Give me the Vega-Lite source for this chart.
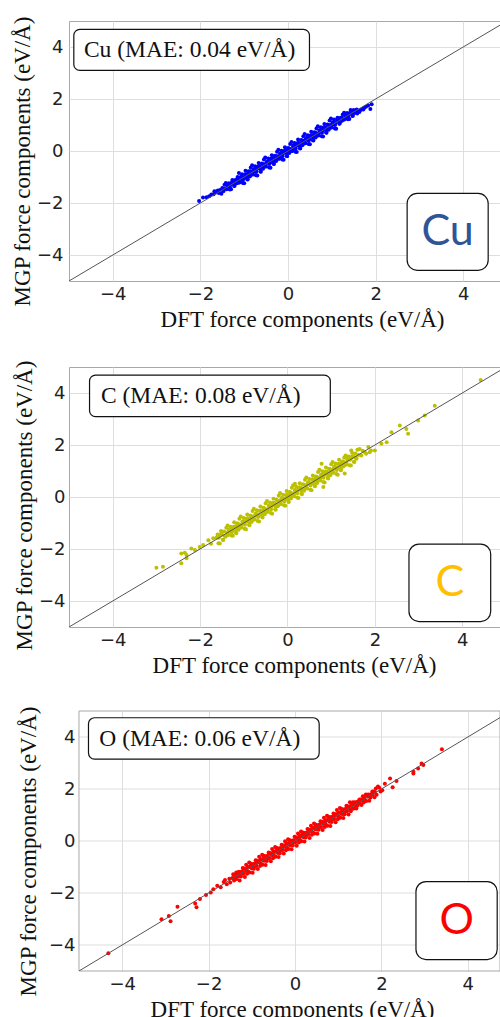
{
  "$schema": "https://vega.github.io/schema/vega-lite/v6.json",
  "padding": {"left": 10, "top": 15, "right": 0, "bottom": 0},
  "spacing": 27,
  "background": "white",
  "config": {
    "view": {"stroke": "#a8a8a8", "strokeWidth": 1},
    "axis": {"grid": true, "gridColor": "#dedede", "gridWidth": 1, "domain": false, "ticks": false, "tickSize": 0,
      "labelFont": "DejaVu Sans", "labelFontSize": 18, "labelColor": "#222222",
      "titleFont": "Liberation Serif", "titleFontSize": 23, "titleFontWeight": "normal", "titleColor": "#111111"}
  },
  "datasets": {
    "cu": [
      {"x":-1.50,"y":-1.42},{"x":-1.48,"y":-1.54},{"x":-1.52,"y":-1.64},
      {"x":-1.45,"y":-1.30},{"x":-1.43,"y":-1.44},{"x":-1.47,"y":-1.54},
      {"x":-1.40,"y":-1.47},{"x":-1.38,"y":-1.34},{"x":-1.42,"y":-1.23},
      {"x":-1.35,"y":-1.24},{"x":-1.33,"y":-1.48},{"x":-1.37,"y":-1.32},
      {"x":-1.30,"y":-1.47},{"x":-1.28,"y":-1.23},{"x":-1.32,"y":-1.31},
      {"x":-1.25,"y":-1.21},{"x":-1.23,"y":-1.35},{"x":-1.27,"y":-1.12},
      {"x":-1.20,"y":-1.12},{"x":-1.18,"y":-1.24},{"x":-1.22,"y":-1.34},
      {"x":-1.15,"y":-1.00},{"x":-1.13,"y":-1.14},{"x":-1.17,"y":-1.24},
      {"x":-1.10,"y":-1.20},{"x":-1.08,"y":-1.02},{"x":-1.12,"y":-0.85},
      {"x":-1.05,"y":-0.89},{"x":-1.03,"y":-1.23},{"x":-1.07,"y":-1.01},
      {"x":-1.00,"y":-1.24},{"x":-0.98,"y":-0.90},{"x":-1.02,"y":-1.02},
      {"x":-0.95,"y":-0.89},{"x":-0.93,"y":-1.09},{"x":-0.97,"y":-0.76},
      {"x":-0.90,"y":-0.78},{"x":-0.88,"y":-0.96},{"x":-0.92,"y":-1.10},
      {"x":-0.85,"y":-0.63},{"x":-0.83,"y":-0.83},{"x":-0.87,"y":-0.98},
      {"x":-0.80,"y":-0.90},{"x":-0.78,"y":-0.72},{"x":-0.82,"y":-0.55},
      {"x":-0.75,"y":-0.59},{"x":-0.73,"y":-0.93},{"x":-0.77,"y":-0.71},
      {"x":-0.70,"y":-0.94},{"x":-0.68,"y":-0.60},{"x":-0.72,"y":-0.72},
      {"x":-0.65,"y":-0.59},{"x":-0.63,"y":-0.79},{"x":-0.67,"y":-0.46},
      {"x":-0.60,"y":-0.48},{"x":-0.58,"y":-0.66},{"x":-0.62,"y":-0.80},
      {"x":-0.55,"y":-0.33},{"x":-0.53,"y":-0.53},{"x":-0.57,"y":-0.68},
      {"x":-0.50,"y":-0.60},{"x":-0.48,"y":-0.42},{"x":-0.52,"y":-0.25},
      {"x":-0.45,"y":-0.29},{"x":-0.43,"y":-0.63},{"x":-0.47,"y":-0.41},
      {"x":-0.40,"y":-0.64},{"x":-0.38,"y":-0.30},{"x":-0.42,"y":-0.42},
      {"x":-0.35,"y":-0.29},{"x":-0.33,"y":-0.49},{"x":-0.37,"y":-0.16},
      {"x":-0.30,"y":-0.18},{"x":-0.28,"y":-0.36},{"x":-0.32,"y":-0.50},
      {"x":-0.25,"y":-0.03},{"x":-0.23,"y":-0.23},{"x":-0.27,"y":-0.38},
      {"x":-0.20,"y":-0.30},{"x":-0.18,"y":-0.12},{"x":-0.22,"y":0.05},
      {"x":-0.15,"y":0.01},{"x":-0.13,"y":-0.33},{"x":-0.17,"y":-0.11},
      {"x":-0.10,"y":-0.34},{"x":-0.08,"y":0.00},{"x":-0.12,"y":-0.12},
      {"x":-0.05,"y":0.01},{"x":-0.03,"y":-0.19},{"x":-0.07,"y":0.14},
      {"x":0.00,"y":0.12},{"x":0.02,"y":-0.06},{"x":-0.02,"y":-0.20},
      {"x":0.05,"y":0.27},{"x":0.07,"y":0.07},{"x":0.03,"y":-0.08},
      {"x":0.10,"y":0.00},{"x":0.12,"y":0.18},{"x":0.08,"y":0.35},
      {"x":0.15,"y":0.31},{"x":0.17,"y":-0.03},{"x":0.13,"y":0.19},
      {"x":0.20,"y":-0.04},{"x":0.22,"y":0.30},{"x":0.18,"y":0.18},
      {"x":0.25,"y":0.31},{"x":0.27,"y":0.11},{"x":0.23,"y":0.44},
      {"x":0.30,"y":0.42},{"x":0.32,"y":0.24},{"x":0.28,"y":0.10},
      {"x":0.35,"y":0.57},{"x":0.37,"y":0.37},{"x":0.33,"y":0.22},
      {"x":0.40,"y":0.30},{"x":0.42,"y":0.48},{"x":0.38,"y":0.65},
      {"x":0.45,"y":0.61},{"x":0.47,"y":0.27},{"x":0.43,"y":0.49},
      {"x":0.50,"y":0.26},{"x":0.52,"y":0.60},{"x":0.48,"y":0.48},
      {"x":0.55,"y":0.61},{"x":0.57,"y":0.41},{"x":0.53,"y":0.74},
      {"x":0.60,"y":0.72},{"x":0.62,"y":0.54},{"x":0.58,"y":0.40},
      {"x":0.65,"y":0.87},{"x":0.67,"y":0.67},{"x":0.63,"y":0.52},
      {"x":0.70,"y":0.60},{"x":0.72,"y":0.78},{"x":0.68,"y":0.95},
      {"x":0.75,"y":0.91},{"x":0.77,"y":0.57},{"x":0.73,"y":0.79},
      {"x":0.80,"y":0.56},{"x":0.82,"y":0.90},{"x":0.78,"y":0.78},
      {"x":0.85,"y":0.91},{"x":0.87,"y":0.71},{"x":0.83,"y":1.04},
      {"x":0.90,"y":1.02},{"x":0.92,"y":0.84},{"x":0.88,"y":0.70},
      {"x":0.95,"y":1.17},{"x":0.97,"y":0.97},{"x":0.93,"y":0.82},
      {"x":1.00,"y":0.90},{"x":1.02,"y":1.08},{"x":0.98,"y":1.25},
      {"x":1.05,"y":1.21},{"x":1.07,"y":0.87},{"x":1.03,"y":1.09},
      {"x":1.10,"y":0.86},{"x":1.12,"y":1.20},{"x":1.08,"y":1.08},
      {"x":1.15,"y":1.19},{"x":1.17,"y":1.05},{"x":1.13,"y":1.28},
      {"x":1.20,"y":1.28},{"x":1.22,"y":1.16},{"x":1.18,"y":1.06},
      {"x":1.25,"y":1.40},{"x":1.27,"y":1.26},{"x":1.23,"y":1.16},
      {"x":1.30,"y":1.23},{"x":1.32,"y":1.36},{"x":1.28,"y":1.47},
      {"x":1.35,"y":1.46},{"x":1.37,"y":1.22},{"x":1.33,"y":1.38},
      {"x":1.40,"y":1.23},{"x":1.42,"y":1.47},{"x":1.38,"y":1.39},
      {"x":1.45,"y":1.49},{"x":1.47,"y":1.35},{"x":1.43,"y":1.58},
      {"x":1.50,"y":1.58},{"x":1.52,"y":1.46},{"x":1.48,"y":1.36},
      {"x":-0.80,"y":-0.82},{"x":-0.70,"y":-0.66},{"x":-0.60,"y":-0.62},{"x":-0.50,"y":-0.47},
      {"x":-0.40,"y":-0.43},{"x":-0.30,"y":-0.27},{"x":-0.20,"y":-0.22},{"x":-0.10,"y":-0.07},
      {"x":0.00,"y":0.03},{"x":0.10,"y":0.07},{"x":0.20,"y":0.23},{"x":0.30,"y":0.27},
      {"x":0.40,"y":0.43},{"x":0.50,"y":0.47},{"x":0.60,"y":0.63},{"x":0.70,"y":0.67},
      {"x":0.80,"y":0.83},{"x":0.90,"y":0.87},{"x":1.00,"y":1.03},{"x":-0.90,"y":-0.87},{"x":-1.00,"y":-1.03},
      {"x":-1.25,"y":-1.26},{"x":-1.15,"y":-1.08},{"x":-1.05,"y":-1.12},{"x":-0.95,"y":-0.97},
      {"x":-0.85,"y":-0.78},{"x":-0.75,"y":-0.80},{"x":-0.65,"y":-0.62},{"x":-0.55,"y":-0.58},
      {"x":-0.45,"y":-0.44},{"x":-0.35,"y":-0.38},{"x":-0.25,"y":-0.20},{"x":-0.15,"y":-0.19},
      {"x":-0.05,"y":-0.02},{"x":0.05,"y":0.01},{"x":0.15,"y":0.17},{"x":0.25,"y":0.22},
      {"x":0.35,"y":0.38},{"x":0.45,"y":0.42},{"x":0.55,"y":0.58},{"x":0.65,"y":0.61},
      {"x":0.75,"y":0.77},{"x":0.85,"y":0.82},{"x":0.95,"y":0.98},{"x":1.05,"y":1.02},
      {"x":1.15,"y":1.15},{"x":1.25,"y":1.22},{"x":1.35,"y":1.33},{"x":1.45,"y":1.42},
      {"x":-1.375,"y":-1.30},{"x":-1.325,"y":-1.40},{"x":-1.275,"y":-1.19},{"x":-1.225,"y":-1.28},
      {"x":-1.175,"y":-1.10},{"x":-1.125,"y":-1.22},{"x":-1.075,"y":-1.00},{"x":-1.025,"y":-1.10},
      {"x":-0.975,"y":-0.90},{"x":-0.925,"y":-1.00},{"x":-0.875,"y":-0.80},{"x":-0.825,"y":-0.90},
      {"x":-0.775,"y":-0.70},{"x":-0.725,"y":-0.80},{"x":-0.675,"y":-0.60},{"x":-0.625,"y":-0.70},
      {"x":-0.575,"y":-0.50},{"x":-0.525,"y":-0.60},{"x":-0.475,"y":-0.40},{"x":-0.425,"y":-0.50},
      {"x":-0.375,"y":-0.30},{"x":-0.325,"y":-0.40},{"x":-0.275,"y":-0.20},{"x":-0.225,"y":-0.30},
      {"x":-0.175,"y":-0.10},{"x":-0.125,"y":-0.20},{"x":-0.075,"y":0.00},{"x":-0.025,"y":-0.10},
      {"x":0.025,"y":0.10},{"x":0.075,"y":0.00},{"x":0.125,"y":0.20},{"x":0.175,"y":0.10},
      {"x":0.225,"y":0.30},{"x":0.275,"y":0.20},{"x":0.325,"y":0.40},{"x":0.375,"y":0.30},
      {"x":0.425,"y":0.50},{"x":0.475,"y":0.40},{"x":0.525,"y":0.60},{"x":0.575,"y":0.50},
      {"x":0.625,"y":0.70},{"x":0.675,"y":0.60},{"x":0.725,"y":0.80},{"x":0.775,"y":0.70},
      {"x":0.825,"y":0.90},{"x":0.875,"y":0.80},{"x":0.925,"y":1.00},{"x":0.975,"y":0.90},
      {"x":1.025,"y":1.10},{"x":1.075,"y":1.00},{"x":1.125,"y":1.20},{"x":1.175,"y":1.10},
      {"x":1.225,"y":1.28},{"x":1.275,"y":1.20},{"x":1.325,"y":1.38},{"x":1.375,"y":1.30},
      {"x":-1.55,"y":-1.50},{"x":-1.58,"y":-1.62},{"x":-1.62,"y":-1.55},{"x":-1.65,"y":-1.60},
      {"x":-1.70,"y":-1.66},{"x":-1.75,"y":-1.67},{"x":-1.80,"y":-1.74},{"x":-1.86,"y":-1.78},
      {"x":-1.94,"y":-1.79},{"x":-2.03,"y":-1.92},{"x":-1.60,"y":-1.52},{"x":-1.68,"y":-1.55},
      {"x":1.55,"y":1.52},{"x":1.58,"y":1.44},{"x":1.60,"y":1.55},{"x":1.63,"y":1.50},
      {"x":1.66,"y":1.58},{"x":1.70,"y":1.62},{"x":1.74,"y":1.66},{"x":1.78,"y":1.70},
      {"x":1.83,"y":1.75},{"x":1.91,"y":1.80},{"x":1.88,"y":1.62},{"x":1.57,"y":1.60},{"x":1.72,"y":1.60}
    ],
    "c": [
      {"x":-1.60,"y":-1.44},{"x":-1.58,"y":-1.78},{"x":-1.62,"y":-1.56},
      {"x":-1.55,"y":-1.79},{"x":-1.53,"y":-1.45},{"x":-1.57,"y":-1.57},
      {"x":-1.50,"y":-1.44},{"x":-1.48,"y":-1.64},{"x":-1.52,"y":-1.31},
      {"x":-1.45,"y":-1.33},{"x":-1.43,"y":-1.51},{"x":-1.47,"y":-1.65},
      {"x":-1.40,"y":-1.18},{"x":-1.38,"y":-1.38},{"x":-1.42,"y":-1.53},
      {"x":-1.35,"y":-1.45},{"x":-1.33,"y":-1.27},{"x":-1.37,"y":-1.10},
      {"x":-1.30,"y":-1.14},{"x":-1.28,"y":-1.48},{"x":-1.32,"y":-1.26},
      {"x":-1.25,"y":-1.49},{"x":-1.23,"y":-1.15},{"x":-1.27,"y":-1.27},
      {"x":-1.20,"y":-1.13},{"x":-1.18,"y":-1.37},{"x":-1.22,"y":-0.97},
      {"x":-1.15,"y":-1.01},{"x":-1.13,"y":-1.22},{"x":-1.17,"y":-1.39},
      {"x":-1.10,"y":-0.84},{"x":-1.08,"y":-1.08},{"x":-1.12,"y":-1.26},
      {"x":-1.05,"y":-1.17},{"x":-1.03,"y":-0.95},{"x":-1.07,"y":-0.75},
      {"x":-1.00,"y":-0.81},{"x":-0.98,"y":-1.22},{"x":-1.02,"y":-0.95},
      {"x":-0.95,"y":-1.24},{"x":-0.93,"y":-0.83},{"x":-0.97,"y":-0.97},
      {"x":-0.90,"y":-0.83},{"x":-0.88,"y":-1.07},{"x":-0.92,"y":-0.67},
      {"x":-0.85,"y":-0.71},{"x":-0.83,"y":-0.92},{"x":-0.87,"y":-1.09},
      {"x":-0.80,"y":-0.54},{"x":-0.78,"y":-0.78},{"x":-0.82,"y":-0.96},
      {"x":-0.75,"y":-0.87},{"x":-0.73,"y":-0.65},{"x":-0.77,"y":-0.45},
      {"x":-0.70,"y":-0.51},{"x":-0.68,"y":-0.92},{"x":-0.72,"y":-0.65},
      {"x":-0.65,"y":-0.94},{"x":-0.63,"y":-0.53},{"x":-0.67,"y":-0.67},
      {"x":-0.60,"y":-0.53},{"x":-0.58,"y":-0.77},{"x":-0.62,"y":-0.37},
      {"x":-0.55,"y":-0.41},{"x":-0.53,"y":-0.62},{"x":-0.57,"y":-0.79},
      {"x":-0.50,"y":-0.24},{"x":-0.48,"y":-0.48},{"x":-0.52,"y":-0.66},
      {"x":-0.45,"y":-0.57},{"x":-0.43,"y":-0.35},{"x":-0.47,"y":-0.15},
      {"x":-0.40,"y":-0.21},{"x":-0.38,"y":-0.62},{"x":-0.42,"y":-0.35},
      {"x":-0.35,"y":-0.64},{"x":-0.33,"y":-0.23},{"x":-0.37,"y":-0.37},
      {"x":-0.30,"y":-0.23},{"x":-0.28,"y":-0.47},{"x":-0.32,"y":-0.07},
      {"x":-0.25,"y":-0.11},{"x":-0.23,"y":-0.32},{"x":-0.27,"y":-0.49},
      {"x":-0.20,"y":0.06},{"x":-0.18,"y":-0.18},{"x":-0.22,"y":-0.36},
      {"x":-0.15,"y":-0.27},{"x":-0.13,"y":-0.05},{"x":-0.17,"y":0.15},
      {"x":-0.10,"y":0.09},{"x":-0.08,"y":-0.32},{"x":-0.12,"y":-0.05},
      {"x":-0.05,"y":-0.34},{"x":-0.03,"y":0.07},{"x":-0.07,"y":-0.07},
      {"x":0.00,"y":0.07},{"x":0.02,"y":-0.17},{"x":-0.02,"y":0.23},
      {"x":0.05,"y":0.19},{"x":0.07,"y":-0.02},{"x":0.03,"y":-0.19},
      {"x":0.10,"y":0.36},{"x":0.12,"y":0.12},{"x":0.08,"y":-0.06},
      {"x":0.15,"y":0.03},{"x":0.17,"y":0.25},{"x":0.13,"y":0.45},
      {"x":0.20,"y":0.39},{"x":0.22,"y":-0.02},{"x":0.18,"y":0.25},
      {"x":0.25,"y":-0.04},{"x":0.27,"y":0.37},{"x":0.23,"y":0.23},
      {"x":0.30,"y":0.37},{"x":0.32,"y":0.13},{"x":0.28,"y":0.53},
      {"x":0.35,"y":0.49},{"x":0.37,"y":0.28},{"x":0.33,"y":0.11},
      {"x":0.40,"y":0.66},{"x":0.42,"y":0.42},{"x":0.38,"y":0.24},
      {"x":0.45,"y":0.33},{"x":0.47,"y":0.55},{"x":0.43,"y":0.75},
      {"x":0.50,"y":0.69},{"x":0.52,"y":0.28},{"x":0.48,"y":0.55},
      {"x":0.55,"y":0.26},{"x":0.57,"y":0.67},{"x":0.53,"y":0.53},
      {"x":0.60,"y":0.67},{"x":0.62,"y":0.43},{"x":0.58,"y":0.83},
      {"x":0.65,"y":0.79},{"x":0.67,"y":0.58},{"x":0.63,"y":0.41},
      {"x":0.70,"y":0.96},{"x":0.72,"y":0.72},{"x":0.68,"y":0.54},
      {"x":0.75,"y":0.63},{"x":0.77,"y":0.85},{"x":0.73,"y":1.05},
      {"x":0.80,"y":0.99},{"x":0.82,"y":0.58},{"x":0.78,"y":0.85},
      {"x":0.85,"y":0.56},{"x":0.87,"y":0.97},{"x":0.83,"y":0.83},
      {"x":0.90,"y":0.97},{"x":0.92,"y":0.73},{"x":0.88,"y":1.13},
      {"x":0.95,"y":1.09},{"x":0.97,"y":0.88},{"x":0.93,"y":0.71},
      {"x":1.00,"y":1.26},{"x":1.02,"y":1.02},{"x":0.98,"y":0.84},
      {"x":1.05,"y":0.93},{"x":1.07,"y":1.15},{"x":1.03,"y":1.35},
      {"x":1.10,"y":1.29},{"x":1.12,"y":0.88},{"x":1.08,"y":1.15},
      {"x":1.15,"y":0.86},{"x":1.17,"y":1.27},{"x":1.13,"y":1.13},
      {"x":1.20,"y":1.27},{"x":1.22,"y":1.03},{"x":1.18,"y":1.43},
      {"x":1.25,"y":1.37},{"x":1.27,"y":1.19},{"x":1.23,"y":1.05},
      {"x":1.30,"y":1.52},{"x":1.32,"y":1.32},{"x":1.28,"y":1.17},
      {"x":1.35,"y":1.25},{"x":1.37,"y":1.43},{"x":1.33,"y":1.60},
      {"x":1.40,"y":1.56},{"x":1.42,"y":1.22},{"x":1.38,"y":1.44},
      {"x":1.45,"y":1.21},{"x":1.47,"y":1.55},{"x":1.43,"y":1.43},
      {"x":1.50,"y":1.56},{"x":1.52,"y":1.36},{"x":1.48,"y":1.69},
      {"x":1.55,"y":1.67},{"x":1.57,"y":1.49},{"x":1.53,"y":1.35},
      {"x":1.60,"y":1.82},{"x":1.62,"y":1.62},{"x":1.58,"y":1.47},
      {"x":-0.90,"y":-0.92},{"x":-0.70,"y":-0.68},{"x":-0.50,"y":-0.53},{"x":-0.30,"y":-0.28},
      {"x":-0.10,"y":-0.12},{"x":0.10,"y":0.08},{"x":0.30,"y":0.32},{"x":0.50,"y":0.48},
      {"x":0.70,"y":0.72},{"x":0.90,"y":0.88},{"x":1.10,"y":1.12},{"x":-1.10,"y":-1.08},
      {"x":-1.35,"y":-1.32},{"x":-1.25,"y":-1.28},{"x":-1.15,"y":-1.12},{"x":-1.05,"y":-1.06},
      {"x":-0.95,"y":-0.92},{"x":-0.85,"y":-0.88},{"x":-0.75,"y":-0.72},{"x":-0.65,"y":-0.70},
      {"x":-0.55,"y":-0.52},{"x":-0.45,"y":-0.49},{"x":-0.35,"y":-0.33},{"x":-0.25,"y":-0.28},
      {"x":-0.15,"y":-0.12},{"x":-0.05,"y":-0.09},{"x":0.05,"y":0.08},{"x":0.15,"y":0.12},
      {"x":0.25,"y":0.28},{"x":0.35,"y":0.32},{"x":0.45,"y":0.48},{"x":0.55,"y":0.51},
      {"x":0.65,"y":0.68},{"x":0.75,"y":0.72},{"x":0.85,"y":0.88},{"x":0.95,"y":0.92},
      {"x":1.05,"y":1.08},{"x":1.15,"y":1.12},{"x":1.25,"y":1.28},{"x":1.35,"y":1.32},
      {"x":1.45,"y":1.47},{"x":1.55,"y":1.52},
      {"x":-1.375,"y":-1.47},{"x":-1.325,"y":-1.24},{"x":-1.275,"y":-1.37},{"x":-1.225,"y":-1.14},
      {"x":-1.175,"y":-1.27},{"x":-1.125,"y":-1.04},{"x":-1.075,"y":-1.17},{"x":-1.025,"y":-0.94},
      {"x":-0.975,"y":-1.07},{"x":-0.925,"y":-0.84},{"x":-0.875,"y":-0.97},{"x":-0.825,"y":-0.74},
      {"x":-0.775,"y":-0.87},{"x":-0.725,"y":-0.64},{"x":-0.675,"y":-0.77},{"x":-0.625,"y":-0.54},
      {"x":-0.575,"y":-0.67},{"x":-0.525,"y":-0.44},{"x":-0.475,"y":-0.57},{"x":-0.425,"y":-0.34},
      {"x":-0.375,"y":-0.47},{"x":-0.325,"y":-0.24},{"x":-0.275,"y":-0.37},{"x":-0.225,"y":-0.14},
      {"x":-0.175,"y":-0.27},{"x":-0.125,"y":-0.04},{"x":-0.075,"y":-0.17},{"x":-0.025,"y":0.07},
      {"x":0.025,"y":-0.07},{"x":0.075,"y":0.17},{"x":0.125,"y":0.04},{"x":0.175,"y":0.27},
      {"x":0.225,"y":0.14},{"x":0.275,"y":0.37},{"x":0.325,"y":0.24},{"x":0.375,"y":0.47},
      {"x":0.425,"y":0.34},{"x":0.475,"y":0.57},{"x":0.525,"y":0.44},{"x":0.575,"y":0.67},
      {"x":0.625,"y":0.54},{"x":0.675,"y":0.77},{"x":0.725,"y":0.64},{"x":0.775,"y":0.87},
      {"x":0.825,"y":0.74},{"x":0.875,"y":0.97},{"x":0.925,"y":0.84},{"x":0.975,"y":1.07},
      {"x":1.025,"y":0.94},{"x":1.075,"y":1.17},{"x":1.125,"y":1.04},{"x":1.175,"y":1.27},
      {"x":1.225,"y":1.14},{"x":1.275,"y":1.37},{"x":1.325,"y":1.24},{"x":1.375,"y":1.47},
      {"x":-3.00,"y":-2.72},{"x":-2.85,"y":-2.68},{"x":-2.43,"y":-2.55},{"x":-2.31,"y":-2.23},
      {"x":-2.20,"y":-1.98},{"x":-2.35,"y":-2.14},{"x":-1.81,"y":-1.66},{"x":-1.70,"y":-1.59},
      {"x":-1.93,"y":-1.85},{"x":-1.51,"y":-1.34},{"x":-1.59,"y":-1.47},{"x":-2.01,"y":-1.92},
      {"x":-2.12,"y":-2.04},{"x":-2.43,"y":-2.17},{"x":-2.31,"y":-2.36},{"x":-1.75,"y":-1.80},
      {"x":4.42,"y":4.50},{"x":3.37,"y":3.51},{"x":3.14,"y":3.13},{"x":2.99,"y":2.94},
      {"x":2.72,"y":2.62},{"x":2.76,"y":2.43},{"x":2.57,"y":2.75},{"x":2.38,"y":2.49},
      {"x":2.27,"y":2.11},{"x":2.15,"y":2.05},{"x":1.85,"y":1.92},{"x":1.77,"y":1.72},
      {"x":1.91,"y":1.79},{"x":1.65,"y":1.85},{"x":1.46,"y":1.79},{"x":1.69,"y":1.60},
      {"x":2.00,"y":1.79},{"x":1.88,"y":1.72},{"x":1.31,"y":0.90},{"x":0.78,"y":1.28},
      {"x":0.82,"y":0.38},{"x":0.17,"y":0.51},{"x":1.72,"y":1.78},{"x":1.80,"y":1.66}
    ],
    "o": [
      {"x":-1.43,"y":-1.28},{"x":-1.45,"y":-1.42},{"x":-1.41,"y":-1.52},
      {"x":-1.38,"y":-1.45},{"x":-1.40,"y":-1.32},{"x":-1.36,"y":-1.21},
      {"x":-1.33,"y":-1.22},{"x":-1.35,"y":-1.46},{"x":-1.31,"y":-1.30},
      {"x":-1.28,"y":-1.52},{"x":-1.30,"y":-1.18},{"x":-1.26,"y":-1.30},
      {"x":-1.23,"y":-1.17},{"x":-1.25,"y":-1.37},{"x":-1.21,"y":-1.04},
      {"x":-1.18,"y":-1.06},{"x":-1.20,"y":-1.24},{"x":-1.16,"y":-1.38},
      {"x":-1.13,"y":-0.91},{"x":-1.15,"y":-1.11},{"x":-1.11,"y":-1.26},
      {"x":-1.08,"y":-1.18},{"x":-1.10,"y":-1.00},{"x":-1.06,"y":-0.83},
      {"x":-1.03,"y":-0.87},{"x":-1.05,"y":-1.21},{"x":-1.01,"y":-0.99},
      {"x":-0.98,"y":-1.22},{"x":-1.00,"y":-0.88},{"x":-0.96,"y":-1.00},
      {"x":-0.93,"y":-0.87},{"x":-0.95,"y":-1.07},{"x":-0.91,"y":-0.74},
      {"x":-0.88,"y":-0.76},{"x":-0.90,"y":-0.94},{"x":-0.86,"y":-1.08},
      {"x":-0.83,"y":-0.61},{"x":-0.85,"y":-0.81},{"x":-0.81,"y":-0.96},
      {"x":-0.78,"y":-0.88},{"x":-0.80,"y":-0.70},{"x":-0.76,"y":-0.53},
      {"x":-0.73,"y":-0.57},{"x":-0.75,"y":-0.91},{"x":-0.71,"y":-0.69},
      {"x":-0.68,"y":-0.92},{"x":-0.70,"y":-0.58},{"x":-0.66,"y":-0.70},
      {"x":-0.63,"y":-0.57},{"x":-0.65,"y":-0.77},{"x":-0.61,"y":-0.44},
      {"x":-0.58,"y":-0.46},{"x":-0.60,"y":-0.64},{"x":-0.56,"y":-0.78},
      {"x":-0.53,"y":-0.31},{"x":-0.55,"y":-0.51},{"x":-0.51,"y":-0.66},
      {"x":-0.48,"y":-0.58},{"x":-0.50,"y":-0.40},{"x":-0.46,"y":-0.23},
      {"x":-0.43,"y":-0.27},{"x":-0.45,"y":-0.61},{"x":-0.41,"y":-0.39},
      {"x":-0.38,"y":-0.62},{"x":-0.40,"y":-0.28},{"x":-0.36,"y":-0.40},
      {"x":-0.33,"y":-0.27},{"x":-0.35,"y":-0.47},{"x":-0.31,"y":-0.14},
      {"x":-0.28,"y":-0.16},{"x":-0.30,"y":-0.34},{"x":-0.26,"y":-0.48},
      {"x":-0.23,"y":-0.01},{"x":-0.25,"y":-0.21},{"x":-0.21,"y":-0.36},
      {"x":-0.18,"y":-0.28},{"x":-0.20,"y":-0.10},{"x":-0.16,"y":0.07},
      {"x":-0.13,"y":0.03},{"x":-0.15,"y":-0.31},{"x":-0.11,"y":-0.09},
      {"x":-0.08,"y":-0.32},{"x":-0.10,"y":0.02},{"x":-0.06,"y":-0.10},
      {"x":-0.03,"y":0.03},{"x":-0.05,"y":-0.17},{"x":-0.01,"y":0.16},
      {"x":0.02,"y":0.14},{"x":0.00,"y":-0.04},{"x":0.04,"y":-0.18},
      {"x":0.07,"y":0.29},{"x":0.05,"y":0.09},{"x":0.09,"y":-0.06},
      {"x":0.12,"y":0.02},{"x":0.10,"y":0.20},{"x":0.14,"y":0.37},
      {"x":0.17,"y":0.33},{"x":0.15,"y":-0.01},{"x":0.19,"y":0.21},
      {"x":0.22,"y":-0.02},{"x":0.20,"y":0.32},{"x":0.24,"y":0.20},
      {"x":0.27,"y":0.33},{"x":0.25,"y":0.13},{"x":0.29,"y":0.46},
      {"x":0.32,"y":0.44},{"x":0.30,"y":0.26},{"x":0.34,"y":0.12},
      {"x":0.37,"y":0.59},{"x":0.35,"y":0.39},{"x":0.39,"y":0.24},
      {"x":0.42,"y":0.32},{"x":0.40,"y":0.50},{"x":0.44,"y":0.67},
      {"x":0.47,"y":0.63},{"x":0.45,"y":0.29},{"x":0.49,"y":0.51},
      {"x":0.52,"y":0.28},{"x":0.50,"y":0.62},{"x":0.54,"y":0.50},
      {"x":0.57,"y":0.63},{"x":0.55,"y":0.43},{"x":0.59,"y":0.76},
      {"x":0.62,"y":0.74},{"x":0.60,"y":0.56},{"x":0.64,"y":0.42},
      {"x":0.67,"y":0.89},{"x":0.65,"y":0.69},{"x":0.69,"y":0.54},
      {"x":0.72,"y":0.62},{"x":0.70,"y":0.80},{"x":0.74,"y":0.97},
      {"x":0.77,"y":0.93},{"x":0.75,"y":0.59},{"x":0.79,"y":0.81},
      {"x":0.82,"y":0.58},{"x":0.80,"y":0.92},{"x":0.84,"y":0.80},
      {"x":0.87,"y":0.93},{"x":0.85,"y":0.73},{"x":0.89,"y":1.06},
      {"x":0.92,"y":1.04},{"x":0.90,"y":0.86},{"x":0.94,"y":0.72},
      {"x":0.97,"y":1.19},{"x":0.95,"y":0.99},{"x":0.99,"y":0.84},
      {"x":1.02,"y":0.92},{"x":1.00,"y":1.10},{"x":1.04,"y":1.27},
      {"x":1.07,"y":1.23},{"x":1.05,"y":0.89},{"x":1.09,"y":1.11},
      {"x":1.12,"y":0.88},{"x":1.10,"y":1.22},{"x":1.14,"y":1.10},
      {"x":1.17,"y":1.23},{"x":1.15,"y":1.03},{"x":1.19,"y":1.36},
      {"x":1.22,"y":1.34},{"x":1.20,"y":1.16},{"x":1.24,"y":1.02},
      {"x":1.27,"y":1.49},{"x":1.25,"y":1.29},{"x":1.29,"y":1.14},
      {"x":1.32,"y":1.25},{"x":1.30,"y":1.38},{"x":1.34,"y":1.49},
      {"x":1.37,"y":1.48},{"x":1.35,"y":1.24},{"x":1.39,"y":1.40},
      {"x":1.42,"y":1.25},{"x":1.40,"y":1.49},{"x":1.44,"y":1.41},
      {"x":1.47,"y":1.51},{"x":1.45,"y":1.37},{"x":1.49,"y":1.60},
      {"x":1.52,"y":1.60},{"x":1.50,"y":1.48},{"x":1.54,"y":1.38},
      {"x":1.57,"y":1.72},{"x":1.55,"y":1.58},{"x":1.59,"y":1.48},
      {"x":1.62,"y":1.55},{"x":1.60,"y":1.68},{"x":1.64,"y":1.79},
      {"x":1.67,"y":1.78},{"x":1.65,"y":1.54},{"x":1.69,"y":1.70},
      {"x":1.72,"y":1.55},{"x":1.70,"y":1.79},{"x":1.74,"y":1.71},
      {"x":1.77,"y":1.81},{"x":1.75,"y":1.67},{"x":1.79,"y":1.90},
      {"x":1.82,"y":1.90},{"x":1.80,"y":1.78},{"x":1.84,"y":1.68},
      {"x":1.87,"y":2.02},{"x":1.85,"y":1.88},{"x":1.89,"y":1.78},
      {"x":-0.90,"y":-0.88},{"x":-0.70,"y":-0.71},{"x":-0.50,"y":-0.48},{"x":-0.30,"y":-0.31},
      {"x":-0.10,"y":-0.08},{"x":0.10,"y":0.11},{"x":0.30,"y":0.29},{"x":0.50,"y":0.52},
      {"x":0.70,"y":0.69},{"x":0.90,"y":0.92},
      {"x":-1.33,"y":-1.35},{"x":-1.23,"y":-1.21},{"x":-1.13,"y":-1.15},{"x":-1.03,"y":-1.01},
      {"x":-0.93,"y":-0.95},{"x":-0.83,"y":-0.81},{"x":-0.73,"y":-0.75},{"x":-0.63,"y":-0.61},
      {"x":-0.53,"y":-0.55},{"x":-0.43,"y":-0.41},{"x":-0.33,"y":-0.35},{"x":-0.23,"y":-0.21},
      {"x":-0.13,"y":-0.15},{"x":-0.03,"y":-0.01},{"x":0.07,"y":0.05},{"x":0.17,"y":0.19},
      {"x":0.27,"y":0.25},{"x":0.37,"y":0.39},{"x":0.47,"y":0.45},{"x":0.57,"y":0.59},
      {"x":0.67,"y":0.65},{"x":0.77,"y":0.79},{"x":0.87,"y":0.85},{"x":0.97,"y":0.99},
      {"x":1.07,"y":1.05},{"x":1.17,"y":1.19},{"x":1.27,"y":1.25},{"x":1.37,"y":1.39},
      {"x":1.47,"y":1.45},{"x":1.57,"y":1.59},
      {"x":-1.35,"y":-1.29},{"x":-1.30,"y":-1.36},{"x":-1.25,"y":-1.19},{"x":-1.20,"y":-1.26},
      {"x":-1.15,"y":-1.09},{"x":-1.10,"y":-1.16},{"x":-1.05,"y":-0.99},{"x":-1.00,"y":-1.06},
      {"x":-0.95,"y":-0.89},{"x":-0.90,"y":-0.96},{"x":-0.85,"y":-0.79},{"x":-0.80,"y":-0.86},
      {"x":-0.75,"y":-0.69},{"x":-0.70,"y":-0.76},{"x":-0.65,"y":-0.59},{"x":-0.60,"y":-0.66},
      {"x":-0.55,"y":-0.49},{"x":-0.50,"y":-0.56},{"x":-0.45,"y":-0.39},{"x":-0.40,"y":-0.46},
      {"x":-0.35,"y":-0.29},{"x":-0.30,"y":-0.36},{"x":-0.25,"y":-0.19},{"x":-0.20,"y":-0.26},
      {"x":-0.15,"y":-0.09},{"x":-0.10,"y":-0.16},{"x":-0.05,"y":0.01},{"x":0.00,"y":-0.06},
      {"x":0.05,"y":0.11},{"x":0.10,"y":0.04},{"x":0.15,"y":0.21},{"x":0.20,"y":0.14},
      {"x":0.25,"y":0.31},{"x":0.30,"y":0.24},{"x":0.35,"y":0.41},{"x":0.40,"y":0.34},
      {"x":0.45,"y":0.51},{"x":0.50,"y":0.44},{"x":0.55,"y":0.61},{"x":0.60,"y":0.54},
      {"x":0.65,"y":0.71},{"x":0.70,"y":0.64},{"x":0.75,"y":0.81},{"x":0.80,"y":0.74},
      {"x":0.85,"y":0.91},{"x":0.90,"y":0.84},{"x":0.95,"y":1.01},{"x":1.00,"y":0.94},
      {"x":1.05,"y":1.11},{"x":1.10,"y":1.04},{"x":1.15,"y":1.21},{"x":1.20,"y":1.14},
      {"x":1.25,"y":1.31},{"x":1.30,"y":1.24},{"x":1.35,"y":1.41},{"x":1.40,"y":1.34},{"x":1.45,"y":1.51},
      {"x":-4.32,"y":-4.32},{"x":-3.09,"y":-3.01},{"x":-2.92,"y":-2.88},{"x":-2.88,"y":-3.09},
      {"x":-2.72,"y":-2.53},{"x":-2.31,"y":-2.40},{"x":-2.28,"y":-2.55},{"x":-2.20,"y":-2.23},
      {"x":-2.06,"y":-2.08},{"x":-1.89,"y":-1.86},{"x":-1.80,"y":-1.72},{"x":-1.72,"y":-1.78},
      {"x":-1.65,"y":-1.58},{"x":-1.58,"y":-1.66},{"x":-1.52,"y":-1.45},{"x":-1.50,"y":-1.60},
      {"x":-1.62,"y":-1.50},{"x":-1.95,"y":-1.98},
      {"x":2.08,"y":2.20},{"x":2.20,"y":2.40},{"x":2.26,"y":2.07},{"x":2.35,"y":2.31},
      {"x":2.74,"y":2.60},{"x":2.85,"y":2.79},{"x":2.97,"y":2.92},{"x":2.93,"y":2.98},
      {"x":3.40,"y":3.53},{"x":1.95,"y":2.05},{"x":1.98,"y":1.90},{"x":2.02,"y":1.95},
      {"x":1.92,"y":2.10},{"x":2.74,"y":2.66}
    ]
  },
  "vconcat": [
    {
      "width": 431, "height": 260,
      "layer": [
        {"data": {"name": "cu"}, "mark": {"type": "circle", "size": 16, "opacity": 1, "color": "#0000ff"},
         "encoding": {
           "x": {"field": "x", "type": "quantitative", "scale": {"domain": [-5, 4.84], "nice": false, "zero": false},
                 "axis": {"values": [-4,-2,0,2,4], "format": "d", "title": "DFT force components (eV/Å)", "labelPadding": 4, "titlePadding": 5, "titleX": 233}},
           "y": {"field": "y", "type": "quantitative", "scale": {"domain": [-5, 5], "nice": false, "zero": false},
                 "axis": {"values": [-4,-2,0,2,4], "format": "d", "title": "MGP force components (eV/Å)", "labelPadding": 6, "titlePadding": 2, "titleY": 140}}
         }},
        {"data": {"values": [{}]}, "mark": {"type": "rule", "color": "#555555", "strokeWidth": 1, "clip": true},
         "encoding": {"x": {"datum": -5, "type": "quantitative"}, "y": {"datum": -5, "type": "quantitative"}, "x2": {"datum": 5}, "y2": {"datum": 5}}},
        {"data": {"values": [{}]}, "mark": {"type": "rect", "fill": "white", "stroke": "#111111", "strokeWidth": 1.2, "cornerRadius": 6},
         "encoding": {"x": {"datum": -4.89, "type": "quantitative"}, "x2": {"datum": 0.49}, "y": {"datum": 4.68, "type": "quantitative"}, "y2": {"datum": 3.10}}},
        {"data": {"values": [{"t": "Cu (MAE: 0.04 eV/Å)"}]}, "mark": {"type": "text", "align": "left", "baseline": "middle", "font": "Liberation Serif", "fontSize": 23.5, "color": "#111111"},
         "encoding": {"x": {"datum": -4.66, "type": "quantitative"}, "y": {"datum": 3.87, "type": "quantitative"}, "text": {"field": "t"}}},
        {"data": {"values": [{}]}, "mark": {"type": "rect", "fill": "white", "stroke": "#111111", "strokeWidth": 1.2, "cornerRadius": 10},
         "encoding": {"x": {"datum": 2.72, "type": "quantitative"}, "x2": {"datum": 4.57}, "y": {"datum": -1.63, "type": "quantitative"}, "y2": {"datum": -4.59}}},
        {"data": {"values": [{"t": "Cu"}]}, "mark": {"type": "text", "align": "center", "baseline": "middle", "font": "Lato", "fontSize": 43, "color": "#2f5597"},
         "encoding": {"x": {"datum": 3.645, "type": "quantitative"}, "y": {"datum": -3.11, "type": "quantitative"}, "text": {"field": "t"}}}
      ]
    },
    {
      "width": 431, "height": 260,
      "layer": [
        {"data": {"name": "c"}, "mark": {"type": "circle", "size": 16, "opacity": 1, "color": "#bcc000"},
         "encoding": {
           "x": {"field": "x", "type": "quantitative", "scale": {"domain": [-5, 4.863], "nice": false, "zero": false},
                 "axis": {"values": [-4,-2,0,2,4], "format": "d", "title": "DFT force components (eV/Å)", "labelPadding": 4, "titlePadding": 5, "titleX": 225}},
           "y": {"field": "y", "type": "quantitative", "scale": {"domain": [-5, 5], "nice": false, "zero": false},
                 "axis": {"values": [-4,-2,0,2,4], "format": "d", "title": "MGP force components (eV/Å)", "labelPadding": 4, "titlePadding": 2, "titleY": 138}}
         }},
        {"data": {"values": [{}]}, "mark": {"type": "rule", "color": "#555555", "strokeWidth": 1, "clip": true},
         "encoding": {"x": {"datum": -5, "type": "quantitative"}, "y": {"datum": -5, "type": "quantitative"}, "x2": {"datum": 5}, "y2": {"datum": 5}}},
        {"data": {"values": [{}]}, "mark": {"type": "rect", "fill": "white", "stroke": "#111111", "strokeWidth": 1.2, "cornerRadius": 6},
         "encoding": {"x": {"datum": -4.53, "type": "quantitative"}, "x2": {"datum": 0.98}, "y": {"datum": 4.69, "type": "quantitative"}, "y2": {"datum": 3.09}}},
        {"data": {"values": [{"t": "C (MAE: 0.08 eV/Å)"}]}, "mark": {"type": "text", "align": "left", "baseline": "middle", "font": "Liberation Serif", "fontSize": 23.5, "color": "#111111"},
         "encoding": {"x": {"datum": -4.27, "type": "quantitative"}, "y": {"datum": 3.87, "type": "quantitative"}, "text": {"field": "t"}}},
        {"data": {"values": [{}]}, "mark": {"type": "rect", "fill": "white", "stroke": "#111111", "strokeWidth": 1.2, "cornerRadius": 10},
         "encoding": {"x": {"datum": 2.78, "type": "quantitative"}, "x2": {"datum": 4.65}, "y": {"datum": -1.81, "type": "quantitative"}, "y2": {"datum": -4.79}}},
        {"data": {"values": [{"t": "C"}]}, "mark": {"type": "text", "align": "center", "baseline": "middle", "font": "Lato", "fontSize": 43, "color": "#ffc000"},
         "encoding": {"x": {"datum": 3.715, "type": "quantitative"}, "y": {"datum": -3.30, "type": "quantitative"}, "text": {"field": "t"}}}
      ]
    },
    {
      "width": 431, "height": 260,
      "view": {"stroke": null},
      "layer": [
        {"data": {"values": [{"g": -4}, {"g": -2}, {"g": 0}, {"g": 2}, {"g": 4}]}, "mark": {"type": "rule", "color": "#dedede", "strokeWidth": 1},
         "encoding": {"y": {"field": "g", "type": "quantitative"}, "x": {"datum": -5, "type": "quantitative"}, "x2": {"datum": 4.745}}},
        {"data": {"name": "o"}, "mark": {"type": "circle", "size": 16, "opacity": 1, "color": "#ff0000"},
         "encoding": {
           "x": {"field": "x", "type": "quantitative", "scale": {"domain": [-5.231, 4.745], "nice": false, "zero": false},
                 "axis": {"values": [-4,-2,0,2,4], "format": "d", "title": "DFT force components (eV/Å)", "labelPadding": 4, "titlePadding": 5, "titleX": 223}},
           "y": {"field": "y", "type": "quantitative", "scale": {"domain": [-5, 5], "nice": false, "zero": false},
                 "axis": {"values": [-4,-2,0,2,4], "format": "d", "title": "MGP force components (eV/Å)", "labelPadding": 4, "titlePadding": 8, "titleY": 140, "offset": -10, "grid": false}}
         }},
        {"data": {"values": [{}]}, "mark": {"type": "rect", "fillOpacity": 0, "stroke": "#a8a8a8", "strokeWidth": 1},
         "encoding": {"x": {"datum": -5, "type": "quantitative"}, "x2": {"datum": 4.745}, "y": {"datum": -5, "type": "quantitative"}, "y2": {"datum": 5}}},
        {"data": {"values": [{}]}, "mark": {"type": "rule", "color": "#555555", "strokeWidth": 1, "clip": true},
         "encoding": {"x": {"datum": -5, "type": "quantitative"}, "y": {"datum": -5, "type": "quantitative"}, "x2": {"datum": 5}, "y2": {"datum": 5}}},
        {"data": {"values": [{}]}, "mark": {"type": "rect", "fill": "white", "stroke": "#111111", "strokeWidth": 1.2, "cornerRadius": 6},
         "encoding": {"x": {"datum": -4.78, "type": "quantitative"}, "x2": {"datum": 0.56}, "y": {"datum": 4.74, "type": "quantitative"}, "y2": {"datum": 3.15}}},
        {"data": {"values": [{"t": "O (MAE: 0.06 eV/Å)"}]}, "mark": {"type": "text", "align": "left", "baseline": "middle", "font": "Liberation Serif", "fontSize": 23.5, "color": "#111111"},
         "encoding": {"x": {"datum": -4.53, "type": "quantitative"}, "y": {"datum": 3.93, "type": "quantitative"}, "text": {"field": "t"}}},
        {"data": {"values": [{}]}, "mark": {"type": "rect", "fill": "white", "stroke": "#111111", "strokeWidth": 1.2, "cornerRadius": 10},
         "encoding": {"x": {"datum": 2.80, "type": "quantitative"}, "x2": {"datum": 4.68}, "y": {"datum": -1.56, "type": "quantitative"}, "y2": {"datum": -4.56}}},
        {"data": {"values": [{"t": "O"}]}, "mark": {"type": "text", "align": "center", "baseline": "middle", "font": "Lato", "fontSize": 43, "color": "#ff0000"},
         "encoding": {"x": {"datum": 3.74, "type": "quantitative"}, "y": {"datum": -3.06, "type": "quantitative"}, "text": {"field": "t"}}}
      ]
    }
  ]
}
